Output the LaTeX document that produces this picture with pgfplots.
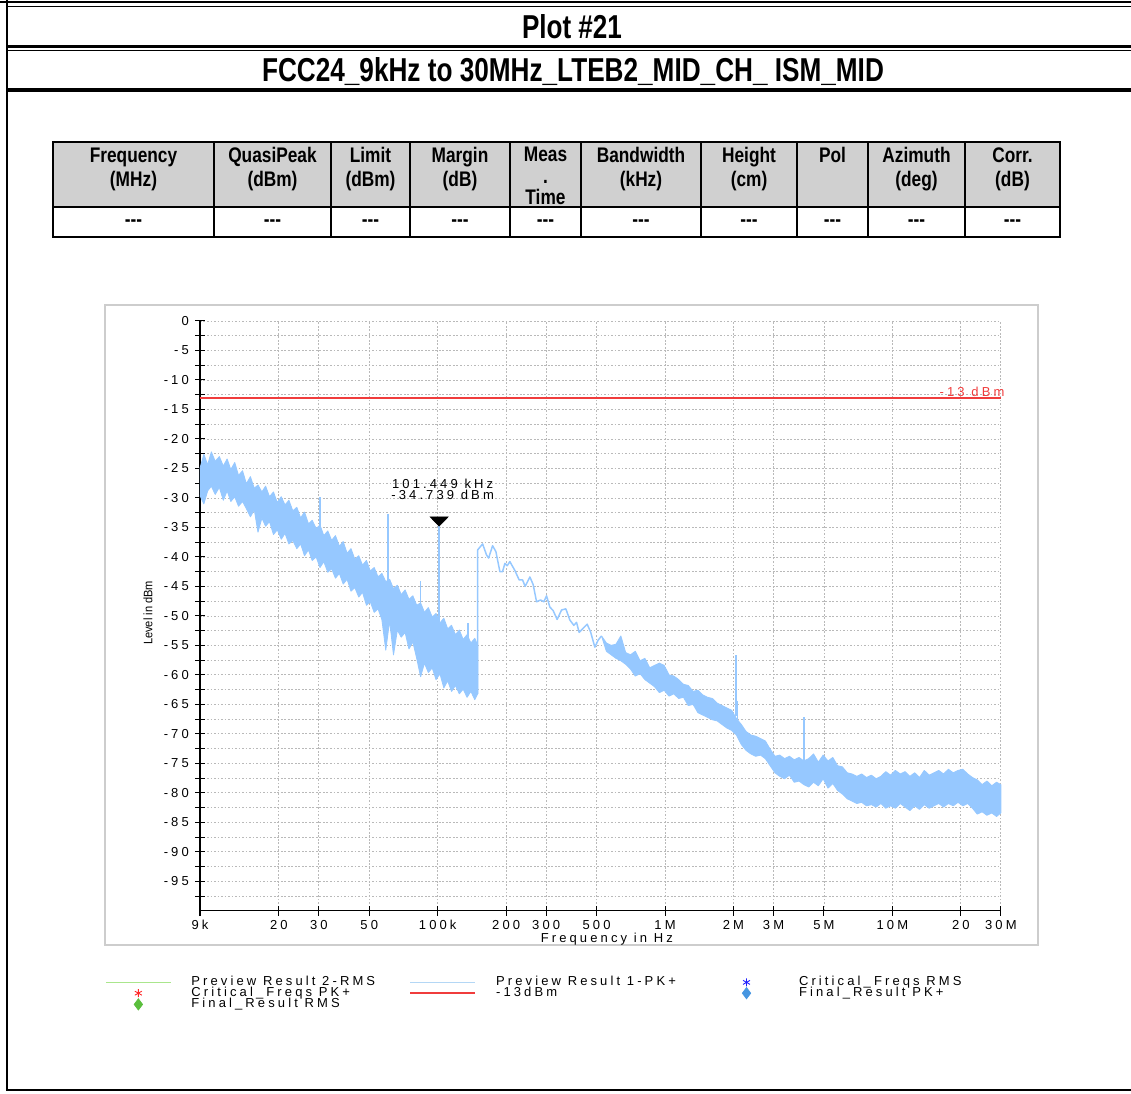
\documentclass[border=0pt]{standalone}
\usepackage{fontspec}
\setmainfont{Liberation Sans}
\newfontfamily\chartfont{Liberation Sans}[LetterSpace=24]
\usepackage{graphicx}
\usepackage{pgfplots}
\pgfplotsset{compat=1.18}

\definecolor{specblue}{RGB}{150,200,255}
\definecolor{limred}{RGB}{240,60,60}
\definecolor{hdrgray}{RGB}{208,208,208}
\definecolor{gridgray}{RGB}{185,185,185}
\definecolor{framegray}{RGB}{205,205,205}
\definecolor{rmsgreen}{RGB}{170,230,140}
\definecolor{pkblue}{RGB}{180,215,245}
\definecolor{finalgreen}{RGB}{90,190,60}
\definecolor{finalblue}{RGB}{70,150,225}
\definecolor{critblue}{RGB}{30,30,255}
\definecolor{critred}{RGB}{255,40,40}

\newcommand{\cf}{\chartfont\fontsize{7.4}{8.4}\selectfont}
\newcommand{\hd}[1]{\scalebox{0.82}[1]{\fontsize{12}{14}\selectfont\bfseries #1}}

\begin{document}
\begin{tikzpicture}

% ------------------------------------------------------------------
% page frame, title rows and result table (pixel grid 0.02cm)
% ------------------------------------------------------------------
\begin{scope}[x=0.02cm,y=-0.02cm]
  \useasboundingbox (0,0) rectangle (1131,1093);
  \draw[line width=1.7pt] (0,2) -- (1131,2);
  \draw[line width=0.5pt] (7,6) -- (1131,6);
  \draw[line width=1.7pt] (7,0) -- (7,1091);
  \draw[line width=1.7pt] (7,46.5) -- (1131,46.5);
  \draw[line width=0.5pt] (7,50.5) -- (1131,50.5);
  \draw[line width=2pt] (7,90) -- (1131,90);
  \draw[line width=1.2pt] (7,1090) -- (1131,1090);

  \node[inner sep=0pt, anchor=base] at (572,38)
    {\resizebox{2.0cm}{0.48cm}{\bfseries Plot \#21}};
  \node[inner sep=0pt, anchor=base] at (573,81)
    {\resizebox{12.44cm}{0.48cm}{\bfseries FCC24\_9kHz to 30MHz\_LTEB2\_MID\_CH\_ ISM\_MID}};

  % table header
  \fill[hdrgray] (53,142) rectangle (1060,207);
  \foreach \x/\a/\b in {133.5/Frequency/(MHz), 272.5/QuasiPeak/(dBm),
      370.5/Limit/(dBm), 460/Margin/(dB), 641/Bandwidth/(kHz),
      749/Height/(cm), 916.5/Azimuth/(deg), 1012.5/Corr./(dB)} {
    \node[inner sep=0pt, anchor=base] at (\x,162) {\hd{\a}};
    \node[inner sep=0pt, anchor=base] at (\x,186) {\hd{\b}};
  }
  \node[inner sep=0pt, anchor=base] at (545.5,161) {\hd{Meas}};
  \node[inner sep=0pt, anchor=base] at (545.5,183) {\hd{.}};
  \node[inner sep=0pt, anchor=base] at (545.5,204.5) {\hd{Time}};
  \node[inner sep=0pt, anchor=base] at (832.5,162) {\hd{Pol}};

  % data row
  \foreach \x in {133.5,272.5,370.5,460,545.5,641,749,832.5,916.5,1012.5}
    \node[inner sep=0pt] at (\x,223) {\hd{-{}-{}-}};
  \draw[line width=0.6pt] (53,142) rectangle (1060,237);
  \draw[line width=0.6pt] (53,207) -- (1060,207);
  \foreach \x in {214,331,410,510,581,701,797,868,965}
    \draw[line width=0.6pt] (\x,142) -- (\x,237);

  % chart frame
  \draw[framegray, line width=1.1pt] (105,305) rectangle (1038,945);
\end{scope}

% ------------------------------------------------------------------
% spectrum
% ------------------------------------------------------------------
\begin{axis}[
    at={(4cm,-18.22cm)},
    anchor=south west,
    scale only axis,
    width=16.02cm,
    height=11.8cm,
    xmode=log,
    xmin=9000, xmax=30000000,
    ymin=-100, ymax=0,
    axis x line*=bottom,
    axis y line*=left,
    axis line style={black, line width=0.7pt},
    xtick={9000,20000,30000,50000,100000,200000,300000,500000,
           1000000,2000000,3000000,5000000,10000000,20000000,30000000},
    xticklabels={9k,20,30,50,100k,200,300,500,1M,2M,3M,5M,10M,20,30M},
    minor x tick style={draw=none},
    ytick={0,-5,...,-95},
    yticklabels={0,-5,-10,-15,-20,-25,-30,-35,-40,-45,-50,-55,-60,-65,
                 -70,-75,-80,-85,-90,-95},
    minor ytick={-2.5,-7.5,...,-97.5},
    xmajorgrids, ymajorgrids, yminorgrids,
    major grid style={gridgray, dash pattern=on 1pt off 1pt, line width=0.45pt},
    minor grid style={gridgray, dash pattern=on 1pt off 1pt, line width=0.45pt},
    tick align=center,
    major tick length=0.2cm,
    minor tick length=0.2cm,
    tick style={black, line width=0.6pt},
    tick label style={font=\cf},
    xticklabel style={yshift=1pt},
    xlabel={Frequency in Hz},
    xlabel style={font=\cf, at={(axis description cs:0.508,-0.0475)}, anchor=center},
    ylabel={\scalebox{0.9}[1]{Level in dBm}},
    ylabel style={font=\fontsize{7}{8}\selectfont,
                  at={(axis description cs:-0.065,0.505)}, anchor=center},
    clip=false,
    legend columns=3,
    legend cell align=left,
    legend style={
        at={(axis description cs:-0.1186,-0.1119)},
        anchor=north west,
        draw=none, fill=none,
        inner sep=0pt,
        row sep=0pt,
        font=\cf,
        nodes={inner sep=0pt, text height=4.7pt, text depth=1.2pt},
        /tikz/every odd column/.append style={column sep=0.4cm},
      },
  ]

  % limit line
  \addplot[limred, line width=1pt, forget plot]
    coordinates {(9000,-13) (30000000,-13)};
  \node[anchor=south east, text=limred, font=\cf, inner sep=0.6pt, xshift=0.1cm]
    at (axis cs:30000000,-13) {-13 dBm};

  % noise band 9 kHz - 150 kHz (upper edge, then lower edge back)
  \addplot[draw=specblue, fill=specblue, line width=0.5pt, line join=round, forget plot]
    coordinates {
      (9000,-25.0) (9360,-22.6) (9730,-24.4) (10100,-22.2) (10500,-23.8)
      (10950,-23.0) (11400,-24.6) (11850,-23.4) (12300,-25.2) (12800,-24.0)
      (13300,-26.2) (13850,-25.4) (14400,-27.6) (15000,-26.4) (15600,-28.4)
      (16200,-27.8) (16850,-29.0) (17500,-28.0) (18200,-29.8) (18950,-29.0)
      (19700,-30.8) (20500,-29.8) (21300,-31.2) (22150,-30.4) (23050,-32.2)
      (24000,-31.6) (24950,-33.4) (25950,-32.4) (27000,-34.4) (28050,-33.8)
      (29200,-35.2) (30350,-34.6) (31550,-36.4) (32850,-35.6) (34150,-37.2)
      (35500,-36.4) (36950,-38.2) (38400,-37.4) (39950,-39.4) (41550,-38.6)
      (43200,-40.4) (44950,-39.8) (46700,-41.4) (48600,-40.6) (50500,-42.4)
      (52550,-41.8) (54650,-43.4) (56800,-42.8) (59100,-44.2) (61450,-43.8)
      (63900,-45.4) (66450,-44.8) (69100,-46.4) (71900,-45.6) (74750,-47.2)
      (77750,-46.6) (80850,-48.2) (84100,-47.8) (87450,-49.4) (90950,-48.6)
      (94600,-50.2) (98350,-49.6) (102300,-51.2) (106400,-50.4) (110650,-52.2)
      (115050,-51.6) (119650,-53.2) (124450,-52.4) (129450,-54.0) (134600,-53.2)
      (140000,-54.6) (145600,-53.8) (150000,-55.0)
      (150000,-63.2) (145600,-64.2) (140000,-62.8) (134600,-63.8) (129450,-62.4)
      (124450,-63.2) (119650,-61.8) (115050,-62.8) (110650,-61.0) (106400,-62.2)
      (102300,-59.8) (98350,-60.8) (94600,-58.8) (90950,-59.6) (87450,-58.0)
      (84100,-60.3) (80850,-57.2) (77750,-54.4) (74750,-55.6) (71900,-52.8)
      (69100,-53.6) (66450,-52.4) (63900,-56.6) (61450,-50.8) (59100,-55.8)
      (56800,-50.6) (54650,-48.8) (52550,-49.4) (50500,-47.6) (48600,-48.2)
      (46700,-46.0) (44950,-46.8) (43200,-45.2) (41550,-45.8) (39950,-43.8)
      (38400,-44.6) (36950,-42.8) (35500,-43.6) (34150,-42.0) (32850,-42.6)
      (31550,-40.8) (30350,-41.8) (29200,-40.0) (28050,-40.6) (27000,-38.8)
      (25950,-39.8) (24950,-37.8) (24000,-38.6) (23050,-37.2) (22150,-37.8)
      (21300,-36.0) (20500,-37.0) (19700,-35.4) (18950,-36.2) (18200,-34.0)
      (17500,-34.8) (16850,-33.4) (16200,-35.8) (15600,-32.0) (15000,-33.2)
      (14400,-31.8) (13850,-30.6) (13300,-31.4) (12800,-29.8) (12300,-30.6)
      (11850,-28.8) (11400,-30.4) (10950,-28.2) (10500,-29.4) (10100,-28.0)
      (9730,-28.8) (9360,-31.0) (9000,-29.6)
    };

  % smooth part 150 kHz - 526 kHz
  \addplot[specblue, line width=0.85pt, line join=round, forget plot]
    coordinates {
      (150000,-63.2) (150000,-38.8) (157600,-37.8) (164100,-39.7) (167500,-40.2)
      (174400,-38.1) (180300,-39.1) (187800,-42.5) (192900,-42.5) (197500,-41.1)
      (202100,-41.5) (207700,-40.8) (218500,-42.3) (228200,-43.9) (236200,-43.9)
      (242500,-45.0) (254400,-43.4) (263000,-44.7) (272200,-47.6) (283400,-47.3)
      (293000,-47.6) (301200,-46.6) (311400,-48.5) (322000,-49.1) (335300,-50.6)
      (350600,-49.0) (366200,-48.8) (381300,-50.7) (397100,-51.6) (408100,-51.1)
      (419000,-52.8) (436300,-52.1) (454400,-51.4) (470300,-52.7) (491200,-55.3)
      (508000,-54.1) (525800,-53.4)
    };

  % noise band 526 kHz - 30 MHz (upper edge, then lower edge back)
  \addplot[draw=specblue, fill=specblue, line width=0.5pt, line join=round, forget plot]
    coordinates {
      (525800,-53.4) (552100,-54.6) (579700,-55.0) (608700,-54.8) (639100,-53.4)
      (671100,-56.2) (704600,-56.6) (739900,-56.0) (776800,-57.6) (815700,-57.2)
      (856500,-58.8) (899300,-58.4) (944300,-58.0) (991500,-58.4) (1041100,-60.0)
      (1093100,-60.2) (1147800,-60.8) (1205200,-61.6) (1265400,-61.8) (1328700,-62.8)
      (1395100,-62.6) (1464900,-63.4) (1538100,-63.8) (1615000,-64.0) (1695800,-64.8)
      (1780600,-65.2) (1869600,-65.6) (1963100,-66.0) (2061300,-67.4) (2164300,-68.4)
      (2272500,-69.6) (2386200,-70.2) (2505500,-70.4) (2630700,-70.8) (2762300,-71.2)
      (2900400,-72.6) (3045400,-73.8) (3197700,-73.6) (3357600,-74.2) (3525500,-73.8)
      (3701700,-74.4) (3886800,-74.0) (4081200,-74.6) (4285200,-74.2) (4499500,-73.4)
      (4724500,-74.8) (4960700,-73.6) (5208700,-74.6) (5469200,-74.0) (5742600,-75.4)
      (6029800,-75.6) (6331300,-76.6) (6647800,-76.8) (6980200,-77.2) (7329200,-76.8)
      (7695700,-77.4) (8080500,-77.0) (8484500,-77.6) (8908700,-77.2) (9354200,-76.4)
      (9821900,-77.0) (10313000,-76.2) (10829000,-76.8) (11370000,-76.4) (11939000,-77.2)
      (12536000,-76.6) (13162000,-77.4) (13820000,-76.2) (14511000,-77.0) (15237000,-76.6)
      (15999000,-76.2) (16799000,-76.8) (17639000,-76.0) (18521000,-76.6) (19447000,-76.2)
      (20419000,-76.0) (21440000,-76.8) (22512000,-77.4) (23638000,-77.8) (24820000,-78.6)
      (26061000,-78.0) (27364000,-78.8) (28732000,-78.2) (30000000,-78.6)
      (30000000,-83.4) (28732000,-84.0) (27364000,-83.4) (26061000,-83.8) (24820000,-83.2)
      (23638000,-83.6) (22512000,-82.6) (21440000,-81.8) (20419000,-82.2) (19447000,-81.6)
      (18521000,-82.2) (17639000,-81.8) (16799000,-82.4) (15999000,-81.8) (15237000,-82.2)
      (14511000,-82.6) (13820000,-82.0) (13162000,-82.8) (12536000,-82.2) (11939000,-83.0)
      (11370000,-82.4) (10829000,-81.8) (10313000,-82.6) (9821900,-82.2) (9354200,-82.6)
      (8908700,-81.8) (8484500,-82.4) (8080500,-82.0) (7695700,-82.2) (7329200,-81.6)
      (6980200,-81.8) (6647800,-81.4) (6331300,-81.0) (6029800,-80.2) (5742600,-79.6)
      (5469200,-78.4) (5208700,-79.2) (4960700,-77.6) (4724500,-78.8) (4499500,-78.2)
      (4285200,-79.0) (4081200,-78.6) (3886800,-78.0) (3701700,-78.2) (3525500,-77.0)
      (3357600,-77.6) (3197700,-77.2) (3045400,-76.6) (2900400,-75.4) (2762300,-74.2)
      (2630700,-73.6) (2505500,-73.8) (2386200,-73.4) (2272500,-72.8) (2164300,-71.8)
      (2061300,-70.2) (1963100,-69.4) (1869600,-69.0) (1780600,-68.4) (1695800,-67.8)
      (1615000,-67.6) (1538100,-67.2) (1464900,-66.8) (1395100,-66.4) (1328700,-65.0)
      (1265400,-65.2) (1205200,-63.8) (1147800,-64.0) (1093100,-63.2) (1041100,-63.6)
      (991500,-62.6) (944300,-63.0) (899300,-62.0) (856500,-61.4) (815700,-60.8)
      (776800,-59.8) (739900,-60.2) (704600,-59.0) (671100,-58.2) (639100,-57.6)
      (608700,-57.2) (579700,-56.6) (552100,-56.0) (525800,-53.4)
    };

  % narrow spurs
  \addplot[specblue, line width=0.8pt, forget plot] coordinates {(30300,-37.0) (30300,-29.9)};
  \addplot[specblue, line width=0.8pt, forget plot] coordinates {(60400,-44.6) (60400,-32.8)};
  \addplot[specblue, line width=0.8pt, forget plot] coordinates {(84000,-49.4) (84000,-44.0)};
  \addplot[specblue, line width=0.8pt, forget plot] coordinates {(101449,-51.0) (101449,-34.739)};
  \addplot[specblue, line width=0.8pt, forget plot] coordinates {(136000,-54.8) (136000,-51.2)};
  \addplot[specblue, line width=0.8pt, forget plot] coordinates {(2050000,-67.0) (2050000,-56.6)};
  \addplot[specblue, line width=0.8pt, forget plot] coordinates {(2085000,-67.4) (2085000,-64.5)};
  \addplot[specblue, line width=0.8pt, forget plot] coordinates {(4080000,-75.0) (4080000,-67.1)};

  % peak marker
  \addplot[only marks, mark=triangle*, mark size=5.9pt, black, forget plot,
           mark options={yshift=3.4pt, yscale=-0.58, fill=black}]
    coordinates {(101449,-34.739)};
  \node[font=\cf, inner sep=0pt, xshift=0.07cm, yshift=0.84cm]
    at (axis cs:101449,-34.739) {101.449 kHz};
  \node[font=\cf, inner sep=0pt, xshift=0.07cm, yshift=0.62cm]
    at (axis cs:101449,-34.739) {-34.739 dBm};

  % legend
  \addlegendimage{legend image code/.code={
      \draw[rmsgreen, line width=0.6pt] (0cm,0cm) -- (1.3cm,0cm);}}
  \addlegendentry{\makebox[4.36cm][l]{Preview Result 2-RMS}}
  \addlegendimage{legend image code/.code={
      \draw[pkblue, line width=0.6pt] (0cm,0cm) -- (1.3cm,0cm);}}
  \addlegendentry{\makebox[4.36cm][l]{Preview Result 1-PK+}}
  \addlegendimage{legend image code/.code={
      \path[draw=none] (0cm,0cm) -- (1.3cm,0cm);
      \path[draw=none] plot[mark=asterisk, mark size=2.3pt,
        mark options={draw=critblue, line width=0.5pt}] coordinates {(0.65cm,0cm)};}}
  \addlegendentry{Critical\_Freqs RMS}
  \addlegendimage{legend image code/.code={
      \path[draw=none] (0cm,0cm) -- (1.3cm,0cm);
      \path[draw=none] plot[mark=asterisk, mark size=2.3pt,
        mark options={draw=critred, line width=0.5pt}] coordinates {(0.65cm,0cm)};}}
  \addlegendentry{Critical\_Freqs PK+}
  \addlegendimage{legend image code/.code={
      \draw[limred, line width=1pt] (0cm,0cm) -- (1.3cm,0cm);}}
  \addlegendentry{-13dBm}
  \addlegendimage{legend image code/.code={
      \path[draw=none] (0cm,0cm) -- (1.3cm,0cm);
      \path[draw=none] plot[mark=diamond*, mark size=3.2pt,
        mark options={fill=finalblue, draw=finalblue}] coordinates {(0.65cm,0cm)};}}
  \addlegendentry{Final\_Result PK+}
  \addlegendimage{legend image code/.code={
      \path[draw=none] (0cm,0cm) -- (1.3cm,0cm);
      \path[draw=none] plot[mark=diamond*, mark size=3.2pt,
        mark options={fill=finalgreen, draw=finalgreen}] coordinates {(0.65cm,0cm)};}}
  \addlegendentry{Final\_Result RMS}

\end{axis}
\end{tikzpicture}
\end{document}
